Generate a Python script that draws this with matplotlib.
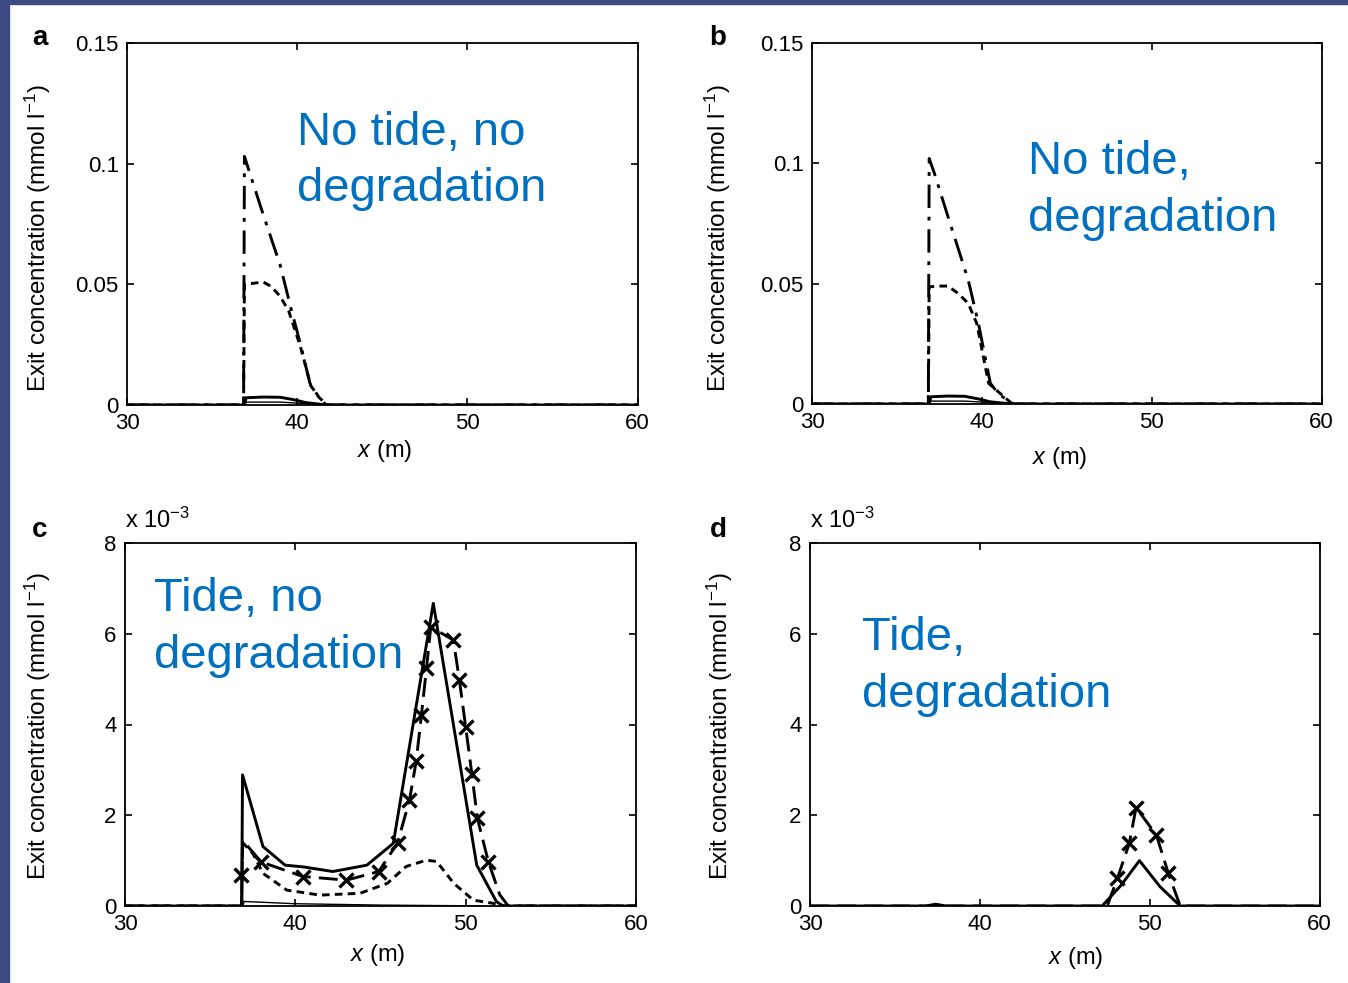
import matplotlib
matplotlib.use("Agg")
import matplotlib.pyplot as plt
from matplotlib.patches import Rectangle

plt.rcParams['font.family'] = ['Liberation Sans', 'DejaVu Sans']
plt.rcParams['mathtext.fontset'] = 'custom'
plt.rcParams['mathtext.rm'] = 'Liberation Sans'
plt.rcParams['mathtext.it'] = 'Liberation Sans:italic'

# ---------------- data ----------------
x_ticks = [30, 40, 50, 60]
yticks_ab = [0, 0.05, 0.1, 0.15]
yticklabels_ab = ['0', '0.05', '0.1', '0.15']
yticks_cd = [0, 2, 4, 6, 8]
yticklabels_cd = ['0', '2', '4', '6', '8']

# panel a (mmol/l)
a_dashdot_x = [30, 36.85, 36.9, 38.0, 39.0, 39.6, 40.2, 40.75, 41.3, 41.7, 60]
a_dashdot_y = [0, 0, 0.103, 0.079, 0.058, 0.041, 0.025, 0.009, 0.003, 0, 0]
a_dashed_x = [30, 36.85, 36.9, 37.5, 38.0, 38.5, 39.0, 39.5, 40.2, 40.8, 41.3, 41.8, 60]
a_dashed_y = [0, 0, 0.050, 0.0505, 0.051, 0.049, 0.045, 0.039, 0.024, 0.008, 0.003, 0, 0]
a_solid_x = [30, 36.9, 37.0, 38.0, 39.0, 39.8, 40.5, 41.5, 42.0, 60]
a_solid_y = [0, 0, 0.0030, 0.0033, 0.0032, 0.0022, 0.0010, 0.0002, 0, 0]
a_thin_x = [36.9, 37.0, 39.0, 40.0, 41.0, 42.0]
a_thin_y = [0, 0.0012, 0.0012, 0.0008, 0.0003, 0]

# panel b (mmol/l)
b_dashdot_x = [30, 36.85, 36.9, 37.2, 38.0, 39.2, 39.8, 40.5, 41.0, 41.5, 41.9, 60]
b_dashdot_y = [0, 0, 0.102, 0.096, 0.078, 0.0515, 0.0335, 0.0086, 0.004, 0.0017, 0, 0]
b_dashed_x = [30, 36.85, 36.9, 37.5, 38.0, 38.6, 39.2, 39.7, 40.4, 41.3, 41.8, 60]
b_dashed_y = [0, 0, 0.0487, 0.049, 0.049, 0.046, 0.0418, 0.0335, 0.0086, 0.003, 0, 0]
b_solid_x = [30, 36.9, 37.0, 38.0, 39.0, 39.8, 40.5, 41.5, 42.0, 60]
b_solid_y = [0, 0, 0.0030, 0.0033, 0.0032, 0.0021, 0.0009, 0.0002, 0, 0]
b_thin_x = [36.9, 37.0, 39.0, 40.0, 41.0, 42.0]
b_thin_y = [0, 0.0012, 0.0012, 0.0008, 0.0003, 0]

# panel c (x 1e-3 mmol/l)
c_solid_x = [30, 36.85, 36.9, 38.1, 39.4, 40.5, 42.2, 44.2, 45.75, 48.1, 50.65, 51.8, 52.2, 60]
c_solid_y = [0, 0, 2.89, 1.31, 0.90, 0.86, 0.76, 0.90, 1.38, 6.67, 0.90, 0.10, 0, 0]
c_dashx_x = [30, 36.85, 36.9, 38.0, 40.45, 43.0, 44.9, 46.0, 46.7, 47.1, 47.4, 47.7, 47.95,
             49.28, 49.63, 50.0, 50.36, 50.69, 51.33, 52.0, 52.5, 60]
c_dashx_y = [0, 0, 1.45, 0.97, 0.65, 0.57, 0.76, 1.39, 2.33, 3.2, 4.2, 5.24, 6.15,
             5.86, 4.98, 3.95, 2.92, 1.93, 0.98, 0.25, 0, 0]
c_mark_x = [36.8, 38.0, 40.45, 43.0, 44.9, 46.0, 46.7, 47.1, 47.4, 47.7, 47.95,
            49.28, 49.63, 50.0, 50.36, 50.69, 51.33]
c_mark_y = [0.68, 0.97, 0.65, 0.57, 0.76, 1.39, 2.33, 3.2, 4.2, 5.24, 6.15,
            5.86, 4.98, 3.95, 2.92, 1.93, 0.98]
c_dashed_x = [30, 36.85, 36.9, 37.5, 38.1, 39.5, 41.45, 43.8, 45.4, 46.5, 47.7, 48.3,
              49.3, 50.45, 51.6, 52.3, 60]
c_dashed_y = [0, 0, 1.40, 1.16, 0.72, 0.35, 0.24, 0.28, 0.50, 0.87, 1.01, 0.98,
              0.50, 0.13, 0.06, 0, 0]
c_thin_x = [36.9, 37.0, 40.0, 45.0, 50.0, 51.0]
c_thin_y = [0, 0.10, 0.05, 0.02, 0.005, 0]

# panel d (x 1e-3 mmol/l)
d_solid_x = [30, 36.8, 37.4, 38.0, 47.2, 48.3, 49.4, 50.6, 51.8, 60]
d_solid_y = [0, 0, 0.04, 0, 0, 0.45, 1.0, 0.43, 0, 0]
d_dashx_x = [30, 47.5, 48.1, 48.8, 49.2, 50.4, 51.1, 51.8, 60]
d_dashx_y = [0, 0, 0.61, 1.38, 2.17, 1.56, 0.72, 0, 0]
d_mark_x = [48.1, 48.8, 49.2, 50.4, 51.1]
d_mark_y = [0.61, 1.38, 2.17, 1.56, 0.72]

panel_letters = ['a', 'b', 'c', 'd']
panel_titles = [('No tide, no', 'degradation'), ('No tide,', 'degradation'),
                ('Tide, no', 'degradation'), ('Tide,', 'degradation')]
ylabel_text = 'Exit concentration (mmol l$^{-1}$)'
xlabel_text = '$\\it{x}$ (m)'
multiplier_text = 'x 10$^{-3}$'

# ---------------- figure ----------------
W, H = 1348, 983
fig = plt.figure(figsize=(W / 100, H / 100), dpi=100)
fig.patch.set_facecolor('white')

border = '#3b4a82'
fig.patches.append(Rectangle((0, 0), 9 / W, 1, transform=fig.transFigure, color=border, zorder=0))
fig.patches.append(Rectangle((0, 1 - 4 / H), 1, 4 / H, transform=fig.transFigure, color=border, zorder=0))

def px_axes(l, r, t, b):
    return [l / W, 1 - b / H, (r - l) / W, (b - t) / H]

boxes = [px_axes(127, 637.5, 43, 405), px_axes(812, 1321.5, 43, 404),
         px_axes(125, 636, 543, 906), px_axes(810, 1319.5, 543, 906)]

axs = [fig.add_axes(b) for b in boxes]
LW = 2.1
BLUE = '#0070C0'

for i, ax in enumerate(axs):
    ax.set_xlim(30, 60)
    ax.set_xticks(x_ticks)
    ax.set_xticklabels([str(v) for v in x_ticks])
    if i < 2:
        ax.set_ylim(0, 0.15)
        ax.set_yticks(yticks_ab)
        ax.set_yticklabels(yticklabels_ab)
    else:
        ax.set_ylim(0, 8)
        ax.set_yticks(yticks_cd)
        ax.set_yticklabels(yticklabels_cd)
    ax.tick_params(direction='in', length=5, width=1.2, top=True, right=True,
                   labelsize=16, pad=6)
    for s in ax.spines.values():
        s.set_linewidth(1.3)

# panel a
ax = axs[0]
ax.plot(a_dashdot_x, a_dashdot_y, color='black', lw=LW, dashes=(8, 3, 1.3, 3))
ax.plot(a_dashed_x, a_dashed_y, color='black', lw=LW, dashes=(2.6, 1.8))
ax.plot(a_solid_x, a_solid_y, color='black', lw=LW)
ax.plot(a_thin_x, a_thin_y, color='black', lw=1.0)

# panel b
ax = axs[1]
ax.plot(b_dashdot_x, b_dashdot_y, color='black', lw=LW, dashes=(8, 3, 1.3, 3))
ax.plot(b_dashed_x, b_dashed_y, color='black', lw=LW, dashes=(2.6, 1.8))
ax.plot(b_solid_x, b_solid_y, color='black', lw=LW)
ax.plot(b_thin_x, b_thin_y, color='black', lw=1.0)

# panel c
ax = axs[2]
ax.plot(c_solid_x, c_solid_y, color='black', lw=LW)
ax.plot(c_dashx_x, c_dashx_y, color='black', lw=LW, dashes=(6.5, 2.8))
ax.plot(c_mark_x, c_mark_y, color='black', lw=0, marker='x', ms=9.5, mew=2.4)
ax.plot(c_dashed_x, c_dashed_y, color='black', lw=LW, dashes=(2.6, 1.8))
ax.plot(c_thin_x, c_thin_y, color='black', lw=1.0)

# panel d
ax = axs[3]
ax.plot(d_solid_x, d_solid_y, color='black', lw=LW)
ax.plot(d_dashx_x, d_dashx_y, color='black', lw=LW, dashes=(6.5, 2.8))
ax.plot(d_mark_x, d_mark_y, color='black', lw=0, marker='x', ms=9.5, mew=2.4)

# texts (pixel positions)
def ftext(x, y, s, **kw):
    fig.text(x / W, 1 - y / H, s, **kw)

letter_pos = [(40, 38), (718, 38), (40, 530), (718, 530)]
for (lx, ly), letter in zip(letter_pos, panel_letters):
    ftext(lx, ly, letter, fontsize=20, fontweight='bold', ha='center', va='center')

ylabel_pos = [(38, 238), (718, 238), (38, 726), (720, 726)]
for (yx, yy) in ylabel_pos:
    ftext(yx, yy, ylabel_text, fontsize=17.5, rotation=90, ha='center', va='center')

xlabel_pos = [(385, 451), (1060, 458), (378, 955), (1076, 958)]
for (xx, xy) in xlabel_pos:
    ftext(xx, xy, xlabel_text, fontsize=17, ha='center', va='center')

# x 10^-3 multipliers
ftext(125, 528, multiplier_text, fontsize=17, ha='left', va='baseline')
ftext(810, 528, multiplier_text, fontsize=17, ha='left', va='baseline')

title_pos = [(297, 145, 201), (1028, 174, 231), (154, 611, 668), (862, 650, 707)]
for (tx, b1, b2), (l1, l2) in zip(title_pos, panel_titles):
    ftext(tx, b1, l1, fontsize=34, color=BLUE, ha='left', va='baseline')
    ftext(tx, b2, l2, fontsize=34, color=BLUE, ha='left', va='baseline')

fig.savefig('out.png', dpi=100)
